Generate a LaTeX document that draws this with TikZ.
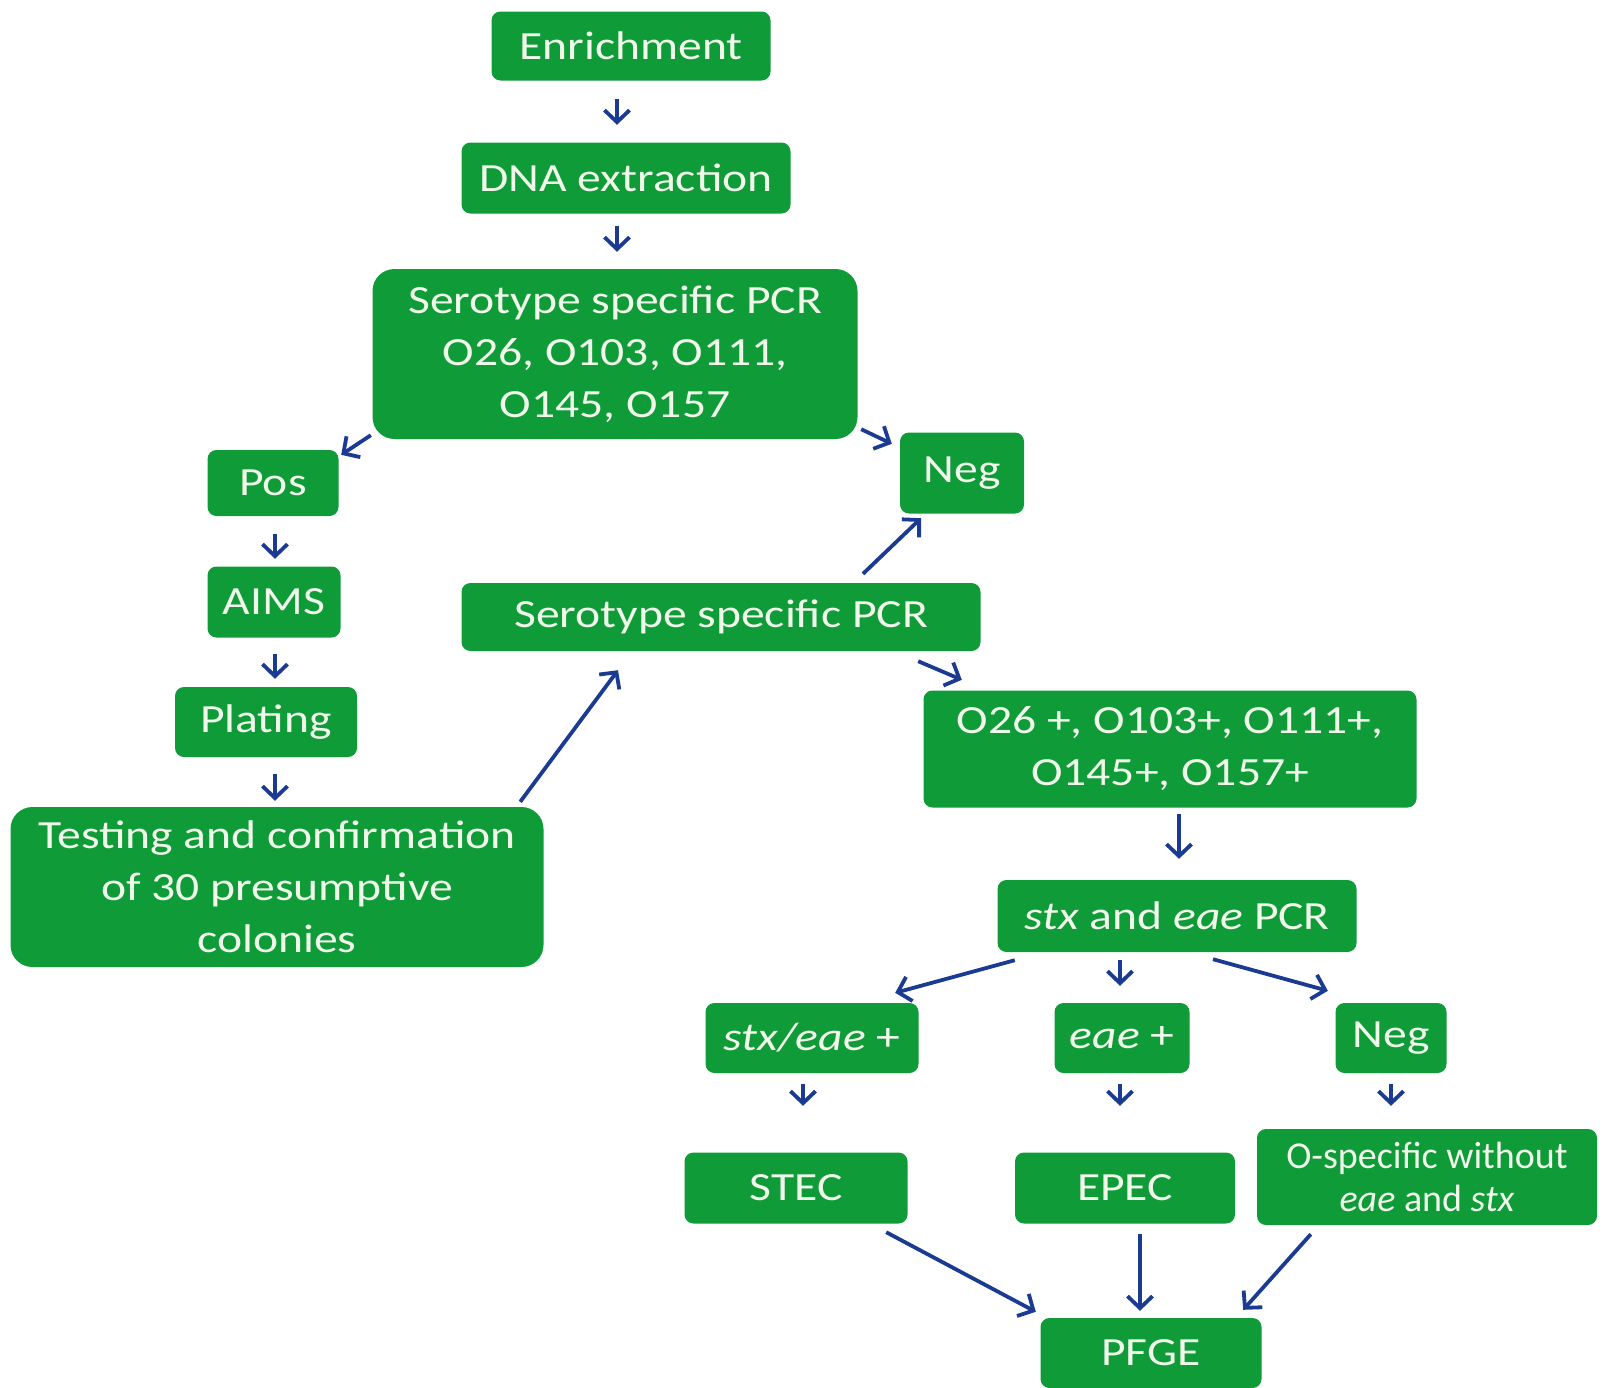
\documentclass[tikz,border=0pt]{standalone}
\usepackage{fontspec}
\setmainfont{Carlito}[FakeStretch=1.19]
\newfontfamily\narrowfont{Carlito}
\usepackage{tikz}
\usetikzlibrary{arrows.meta}
\usepackage{xcolor}
\definecolor{stepgreen}{HTML}{0E9B38}
\definecolor{steptext}{HTML}{F0F8EA}
\definecolor{flowblue}{HTML}{1B3A92}

\begin{document}
\begin{tikzpicture}[x=1pt, y=-1pt,
  box/.style={fill=stepgreen, text=steptext, rounded corners=9pt, inner sep=0pt,
    align=center, font=\fontsize{40}{52}\selectfont},
  flow/.style={flowblue, line width=3.8pt, -{Straight Barb[length=12pt,width=25pt]}}]

\useasboundingbox (0,0) rectangle (1608,1387);

% Top steps
\node[box, minimum width=279pt, minimum height=69pt] (enrich) at (631,46) {Enrichment};
\node[box, minimum width=329pt, minimum height=71pt] (dna) at (626,178) {DNA extraction};
\node[box, rounded corners=22pt, minimum width=485pt, minimum height=170pt] (pcr) at (615,354)
  {Serotype specific PCR\\ O26, O103, O111,\\ O145, O157};

% Positive branch
\node[box, minimum width=131pt, minimum height=66pt] (pos) at (273,483) {Pos};
\node[box, minimum width=133pt, minimum height=71pt] (aims) at (274,602) {AIMS};
\node[box, minimum width=182pt, minimum height=70pt] (plating) at (266,722) {Plating};
\node[box, rounded corners=22pt, minimum width=533pt, minimum height=160pt] (testing) at (277,887)
  {Testing and confirmation\\ of 30 presumptive\\ colonies};

% Negative and second PCR
\node[box, minimum width=124pt, minimum height=81pt] (negtop) at (962,473) {Neg};
\node[box, minimum width=519pt, minimum height=68pt] (midpcr) at (721,617) {Serotype specific PCR};
\node[box, minimum width=493pt, minimum height=117pt] (o26) at (1170,749)
  {O26 +, O103+, O111+,\\ O145+, O157+};
\node[box, minimum width=359pt, minimum height=72pt] (stxpcr) at (1177,916)
  {\textit{stx} and \textit{eae} PCR};

% Virulence groups
\node[box, minimum width=213pt, minimum height=70pt] (stxeae) at (812,1038) {\textit{stx/eae} +};
\node[box, minimum width=135pt, minimum height=70pt] (eae) at (1122,1038) {\textit{eae} +};
\node[box, minimum width=111pt, minimum height=70pt] (negbot) at (1391,1038) {Neg};
\node[box, minimum width=223pt, minimum height=71pt] (stec) at (796,1188) {STEC};
\node[box, minimum width=220pt, minimum height=71pt] (epec) at (1125,1188) {EPEC};
\node[box, minimum width=340pt, minimum height=96pt,
  font=\narrowfont\fontsize{38}{43}\selectfont] (ospec) at (1427,1177)
  {O-specific without\\ \textit{eae} and \textit{stx}};
\node[box, minimum width=221pt, minimum height=70pt] (pfge) at (1151,1353) {PFGE};

% Arrows
\draw[flow, shorten <=18.5pt, shorten >=17.5pt] ([xshift=-14pt]enrich.south) -- ([xshift=-9pt]dna.north);
\draw[flow, shorten <=12.5pt, shorten >=17pt] ([xshift=-9pt]dna.south) -- ([xshift=2pt]pcr.north);
\draw[flow] ([xshift=-1.5pt,yshift=4pt]pcr.south west) -- ([xshift=2.5pt,yshift=-5pt]pos.north east);
\draw[flow] ([xshift=3.5pt,yshift=10pt]pcr.south east) -- ([xshift=-8pt,yshift=-11.5pt]negtop.north west);
\draw[flow, shorten <=18pt, shorten >=7.5pt] ([xshift=2pt]pos.south) -- ([xshift=1pt]aims.north);
\draw[flow, shorten <=16.5pt, shorten >=8pt] ([xshift=1pt]aims.south) -- ([xshift=9pt]plating.north);
\draw[flow, shorten <=17pt, shorten >=6pt] ([xshift=9pt]plating.south) -- ([xshift=-2pt]testing.north);
\draw[flow] ([xshift=-23.5pt,yshift=5pt]testing.north east) -- ([xshift=-103pt,yshift=-19pt]midpcr.south);
\draw[flow] ([xshift=142pt,yshift=9pt]midpcr.north) -- ([xshift=-41pt,yshift=-4.5pt]negtop.south);
\draw[flow] ([xshift=-62.5pt,yshift=-10pt]midpcr.south east) -- ([xshift=38.5pt,yshift=10.5pt]o26.north west);
\draw[flow, shorten <=6.5pt, shorten >=21pt] ([xshift=9pt]o26.south) -- ([xshift=2pt]stxpcr.north);
\draw[flow] ([xshift=17.5pt,yshift=-8pt]stxpcr.south west) -- ([xshift=-23.5pt,yshift=10pt]stxeae.north east);
\draw[flow, shorten <=8pt, shorten >=17pt] ([xshift=-57pt]stxpcr.south) -- ([xshift=-2pt]eae.north);
\draw[flow] ([xshift=36pt,yshift=-7pt]stxpcr.south) -- ([xshift=-7.5pt,yshift=12pt]negbot.north west);
\draw[flow, shorten <=11pt, shorten >=46.5pt] ([xshift=-9pt]stxeae.south) -- ([xshift=7pt]stec.north);
\draw[flow, shorten <=11pt, shorten >=46.5pt] ([xshift=-2pt]eae.south) -- ([xshift=-5pt]epec.north);
\draw[flow, shorten <=11pt, shorten >=23pt] (negbot.south) -- ([xshift=-36pt]ospec.north);
\draw[flow] ([xshift=-21.5pt,yshift=-8.5pt]stec.south east) -- ([xshift=-4.5pt,yshift=6pt]pfge.north west);
\draw[flow, shorten <=10.5pt, shorten >=7pt] ([xshift=15pt]epec.south) -- ([xshift=-11pt]pfge.north);
\draw[flow] ([xshift=54pt,yshift=-9pt]ospec.south west) -- ([xshift=-18.5pt,yshift=8pt]pfge.north east);

\end{tikzpicture}
\end{document}
